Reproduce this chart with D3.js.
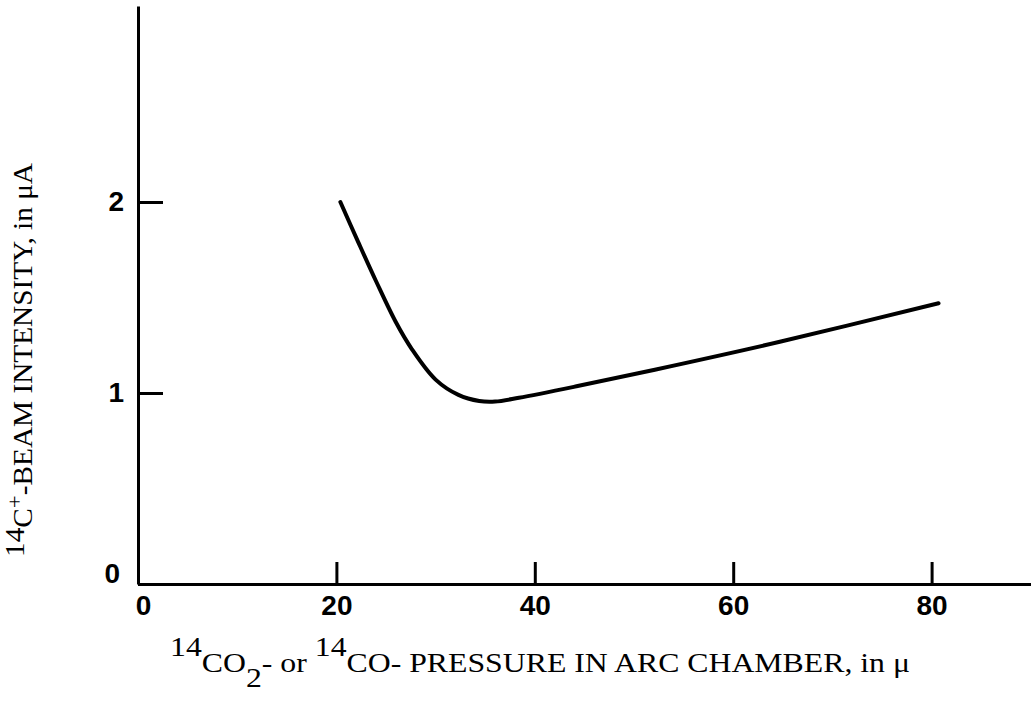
<!DOCTYPE html>
<html>
<head>
<meta charset="utf-8">
<script src="https://cdn.jsdelivr.net/npm/d3@7"></script>
<style>
  body { margin: 0; background: #fff; }
  .tick text { font-family: "Liberation Sans", Arial, sans-serif; font-weight: bold; font-size: 28px; fill: #000; }
  .lbl { font-family: "Liberation Serif", "Times New Roman", serif; font-size: 28px; fill: #000; }
</style>
</head>
<body>
<div id="plot"></div>
<script>
// values
const pressure  = [20.4, 22.2, 24.0, 26.0, 27.6, 30.0, 32.3, 34.4, 36.0, 38.4, 44.2, 52.1, 64.7, 80.7];
const intensity = [2.00, 1.79, 1.585, 1.37, 1.23, 1.07, 0.99, 0.958, 0.955, 0.975, 1.035, 1.122, 1.268, 1.47];
const xTicks = [0, 20, 40, 60, 80];
const yTicks = [0, 1, 2];

const width = 1031, height = 703;

const svg = d3.select("#plot")
  .append("svg")
    .attr("width", width)
    .attr("height", height);

// scales
let x = d3.scaleLinear()
  .domain([0, 90])
  .range([138, 138 + 90 * 9.92]);
let y = d3.scaleLinear()
  .domain([0, 3.026])
  .range([584, 6]);

// x axis, ticks pointing up
let xAxis = svg.append("g")
  .attr("transform", "translate(0," + y(0) + ")")
  .call(d3.axisBottom(x).tickValues(xTicks).tickSizeInner(-22).tickSizeOuter(0).tickPadding(11).tickFormat(d3.format("d")));

// y axis, ticks pointing right
let yAxis = svg.append("g")
  .attr("transform", "translate(" + x(0) + ",0)")
  .call(d3.axisLeft(y).tickValues(yTicks).tickSizeInner(-25).tickSizeOuter(0).tickPadding(14).tickFormat(d3.format("d")));

svg.selectAll(".domain, .tick line")
  .attr("stroke", "#000")
  .attr("stroke-width", 3);

// small nudges of the zero labels as in the original
xAxis.selectAll(".tick text").filter(d => d == 0).attr("dx", 5);
yAxis.selectAll(".tick text").filter(d => d == 0).attr("y", -10).attr("x", -18);

// the curve
let line = d3.line()
  .x((d, i) => x(pressure[i]))
  .y((d, i) => y(intensity[i]))
  .curve(d3.curveCatmullRom.alpha(0.5));

svg.append("path")
  .datum(pressure)
  .attr("d", line)
  .attr("fill", "none")
  .attr("stroke", "#000")
  .attr("stroke-width", 4)
  .attr("stroke-linecap", "round");

// x label
let xl = svg.append("text")
  .attr("class", "lbl")
  .attr("x", 170)
  .attr("y", 672)
  .attr("textLength", 740)
  .attr("lengthAdjust", "spacingAndGlyphs");
xl.append("tspan").attr("dy", -16).text("14");
xl.append("tspan").attr("dy", 16).text("CO");
xl.append("tspan").attr("dy", 15).text("2");
xl.append("tspan").attr("dy", -15).text("- or ");
xl.append("tspan").attr("dy", -16).text("14");
xl.append("tspan").attr("dy", 16).text("CO- PRESSURE IN ARC CHAMBER, in \u03bc");

// y label
let yl = svg.append("text")
  .attr("class", "lbl")
  .attr("transform", "translate(32,557) rotate(-90)")
  .attr("textLength", 394)
  .attr("lengthAdjust", "spacingAndGlyphs");
yl.append("tspan").attr("dy", -8).text("14");
yl.append("tspan").attr("dy", 8).text("C");
yl.append("tspan").attr("dy", -10).style("font-size", "22px").text("+");
yl.append("tspan").attr("dy", 10).text("-BEAM INTENSITY, in \u03bcA");
</script>
</body>
</html>
